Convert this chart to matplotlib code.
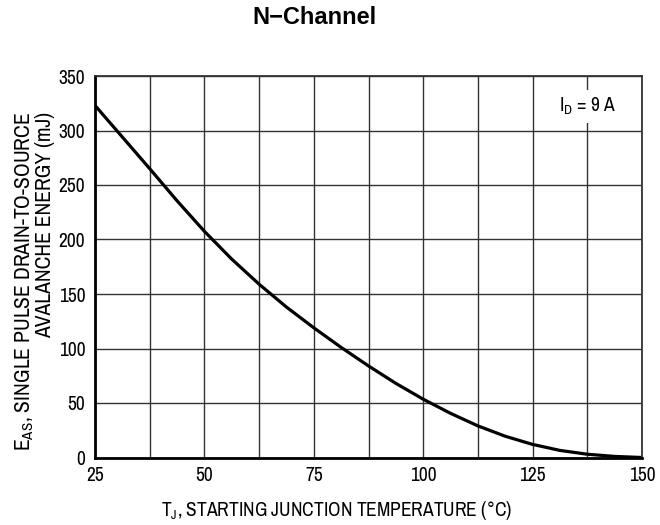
import matplotlib
matplotlib.use("Agg")
from matplotlib import pyplot as plt

temp = [25, 31.25, 37.5, 43.75, 50, 56.25, 62.5, 68.75, 75, 81.25, 87.5,
        93.75, 100, 106.25, 112.5, 118.75, 125, 131.25, 137.5, 143.75, 150]
energy = [323, 294, 265, 235.5, 207.5, 182, 159, 138, 119, 101, 84,
          68, 53.5, 40.5, 29, 19.5, 12, 6.5, 3, 1, 0]

x_ticks = [25, 50, 75, 100, 125, 150]
y_ticks = [0, 50, 100, 150, 200, 250, 300, 350]

narrow = ['Archivo Narrow', 'Roboto Condensed', 'DejaVu Sans']
plt.rcParams['font.family'] = narrow

fig = plt.figure(figsize=(6.6, 5.25), dpi=100)
ax = fig.add_axes([95 / 660, 1 - 457.5 / 525, 547 / 660, 381.5 / 525])

ax.plot(temp, energy, color='black', lw=2.3, solid_capstyle='butt', solid_joinstyle='round')

ax.set_xlim(25, 150)
ax.set_ylim(0, 350)
ax.set_xticks(x_ticks)
ax.set_xticks([25 + 12.5 * i for i in range(11)], minor=True)
ax.set_yticks(y_ticks)
ax.grid(True, which='both', color='#333333', lw=1.0)
ax.tick_params(which='both', length=0, labelsize=14)
ax.tick_params(axis='x', pad=6)
ax.tick_params(axis='y', pad=7)
for s in ax.spines.values():
    s.set_linewidth(1.3)
    s.set_color('#333333')
ax.spines['left'].set_linewidth(2)
ax.spines['left'].set_color('black')
ax.spines['bottom'].set_linewidth(2)
ax.spines['bottom'].set_color('black')
ax.set_axisbelow(True)

ax.text(137.5, 322, r'I$_{\mathregular{D}}$ = 9 A', fontsize=14, ha='center', va='center',
        bbox=dict(facecolor='white', edgecolor='none', pad=4))

fig.text(314.5 / 660, 1 - 17 / 525, 'N\u2212Channel', fontsize=17, fontweight='bold',
         family=['Liberation Sans', 'DejaVu Sans'], ha='center', va='center')

fig.text(337 / 660, 1 - 510 / 525, r'T$_{\mathregular{J}}$, STARTING JUNCTION TEMPERATURE (°C)',
         fontsize=14, ha='center', va='center')

fig.text(34 / 660, 1 - 281.5 / 525,
         'E$_{\\mathregular{AS}}$, SINGLE PULSE DRAIN-TO-SOURCE\nAVALANCHE ENERGY (mJ)',
         fontsize=15.5, rotation=90, ha='center', va='center', multialignment='right',
         linespacing=0.95)

fig.savefig('out.png', dpi=100)
